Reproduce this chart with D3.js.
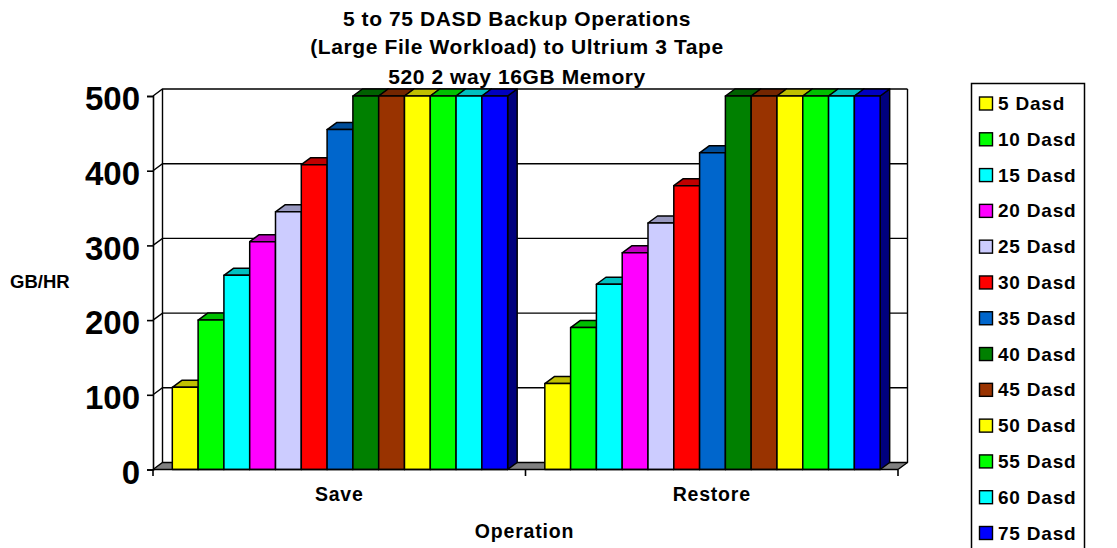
<!DOCTYPE html>
<html>
<head>
<meta charset="utf-8">
<script src="https://cdnjs.cloudflare.com/ajax/libs/d3/7.8.5/d3.min.js"></script>
<style>
html, body { margin: 0; padding: 0; background: #fff; overflow: hidden; }
text { font-family: "Liberation Sans", Arial, sans-serif; font-weight: bold; fill: #000; }
</style>
</head>
<body>
<script>
// values
var operaciones = ["Save", "Restore"]
var series = ["5 Dasd", "10 Dasd", "15 Dasd", "20 Dasd", "25 Dasd", "30 Dasd", "35 Dasd",
  "40 Dasd", "45 Dasd", "50 Dasd", "55 Dasd", "60 Dasd", "75 Dasd"]
var valoresSave = [110, 200, 260, 305, 345, 408, 455, 500, 500, 500, 500, 500, 500]
var valoresRestore = [115, 190, 248, 290, 330, 380, 424, 500, 500, 500, 500, 500, 500]
var colores = ["#ffff00", "#00ff00", "#00ffff", "#ff00ff", "#ccccff", "#ff0000", "#0066cc",
  "#008000", "#993300", "#ffff00", "#00ff00", "#00ffff", "#0000ff"]
var ticksY = [0, 100, 200, 300, 400, 500]
var titulo = ["5 to 75 DASD Backup Operations", "(Large File Workload) to Ultrium 3 Tape", "520 2 way 16GB Memory"]

var width = 1117
var height = 548
var margin = { top: 96, bottom: 78.5, left: 153, right: 219 }
var fondoX = 9.5   // desplazamiento de la pared del fondo
var fondoY = 7

var svg = d3.select("body").append("svg")
  .attr("width", width)
  .attr("height", height)
  .style("display", "block")

var escalaX = d3.scaleBand()
  .domain(operaciones)
  .range([margin.left, width - margin.right])

var escalaSerie = d3.scaleBand()
  .domain(series)
  .range([0, escalaX.bandwidth()])
  .paddingOuter(0.72)
  .paddingInner(0)
  .align(0.52)

var escalaY = d3.scaleLinear()
  .domain([0, 500])
  .range([height - margin.bottom, margin.top])

var y0 = escalaY(0)
var xIni = escalaX.range()[0]
var xFin = escalaX.range()[1]
var yTop = escalaY(500)

// paredes
var paredes = svg.append("g")
paredes.append("path")
  .attr("d", d3.line()([[xIni, y0], [xIni + fondoX, y0 - fondoY], [xFin + fondoX, y0 - fondoY], [xFin, y0]]) + "Z")
  .attr("fill", "#808080")
  .attr("stroke", "none")

// lineas de rejilla en el fondo y en la pared izquierda
paredes.selectAll("polyline")
  .data(ticksY)
  .enter()
  .append("polyline")
  .attr("points", d => [[xIni, escalaY(d)], [xIni + fondoX, escalaY(d) - fondoY], [xFin + fondoX, escalaY(d) - fondoY]].join(" "))
  .attr("fill", "none")
  .attr("stroke", "#000")
  .attr("stroke-width", 1.4)

paredes.append("line")
  .attr("x1", xIni + fondoX).attr("x2", xIni + fondoX)
  .attr("y1", yTop - fondoY).attr("y2", y0 - fondoY)
  .attr("stroke", "#000").attr("stroke-width", 1.4)
paredes.append("polyline")
  .attr("points", [[xFin + fondoX, yTop - fondoY], [xFin + fondoX, y0 - fondoY], [xFin, y0]].join(" "))
  .attr("fill", "none")
  .attr("stroke", "#000").attr("stroke-width", 1.4)

// barras
var datos = []
operaciones.forEach(function (op, i) {
  var valores = i == 0 ? valoresSave : valoresRestore
  series.forEach(function (s, j) {
    datos.push({ op: op, serie: s, valor: valores[j], color: colores[j] })
  })
})

var barras = svg.append("g").selectAll("g")
  .data(datos)
  .enter()
  .append("g")
  .attr("stroke", "#000")
  .attr("stroke-width", 1.5)
  .attr("stroke-linejoin", "round")

var bx = d => escalaX(d.op) + escalaSerie(d.serie)
var bw = escalaSerie.bandwidth()

// cara lateral
barras.append("path")
  .attr("d", d => d3.line()([[bx(d) + bw, escalaY(d.valor)], [bx(d) + bw + fondoX, escalaY(d.valor) - fondoY], [bx(d) + bw + fondoX, y0 - fondoY], [bx(d) + bw, y0]]) + "Z")
  .attr("fill", d => d3.rgb(d.color).darker(2).formatHex())
// cara superior
barras.append("path")
  .attr("d", d => d3.line()([[bx(d), escalaY(d.valor)], [bx(d) + fondoX, escalaY(d.valor) - fondoY], [bx(d) + bw + fondoX, escalaY(d.valor) - fondoY], [bx(d) + bw, escalaY(d.valor)]]) + "Z")
  .attr("fill", d => d3.rgb(d.color).darker(0.8).formatHex())
// frente
barras.append("rect")
  .attr("x", d => bx(d))
  .attr("y", d => escalaY(d.valor))
  .attr("width", bw)
  .attr("height", d => y0 - escalaY(d.valor))
  .attr("fill", d => d.color)

// ejes
var ejeY = d3.axisLeft(escalaY).tickValues(ticksY).tickSize(6).tickPadding(7).tickFormat(d3.format("d"))
var gEjeY = svg.append("g")
  .attr("transform", "translate(" + xIni + ",0)")
  .call(ejeY)
gEjeY.selectAll("text").style("font-size", "33px").attr("dy", "0.42em")
gEjeY.selectAll("line").attr("stroke", "#000").attr("stroke-width", 1.6)
gEjeY.select(".domain").attr("stroke", "#000").attr("stroke-width", 1.6)

var gEjeX = svg.append("g")
  .attr("transform", "translate(0," + y0 + ")")
gEjeX.append("line")
  .attr("x1", xIni).attr("x2", xFin)
  .attr("stroke", "#000").attr("stroke-width", 1.6)
gEjeX.selectAll(".marca")
  .data([xIni, escalaX("Restore"), xFin])
  .enter()
  .append("line")
  .attr("class", "marca")
  .attr("x1", d => d).attr("x2", d => d)
  .attr("y1", 0).attr("y2", 6.5)
  .attr("stroke", "#000").attr("stroke-width", 1.6)
gEjeX.selectAll("text")
  .data(operaciones)
  .enter()
  .append("text")
  .attr("x", d => escalaX(d) + escalaX.bandwidth() / 2)
  .attr("y", 31.5)
  .attr("text-anchor", "middle")
  .style("font-size", "19.5px")
  .style("letter-spacing", "0.8px")
  .text(d => d)

// titulos
svg.selectAll(".titulo")
  .data(titulo)
  .enter()
  .append("text")
  .attr("class", "titulo")
  .attr("x", 517)
  .attr("y", (d, i) => [26, 54, 84][i])
  .attr("text-anchor", "middle")
  .style("font-size", "21px")
  .style("letter-spacing", "0.6px")
  .text(d => d)

svg.append("text")
  .attr("x", 524.5).attr("y", 538)
  .attr("text-anchor", "middle")
  .style("font-size", "19.5px")
  .style("letter-spacing", "0.8px")
  .text("Operation")

svg.append("text")
  .attr("x", 10).attr("y", 288)
  .style("font-size", "18.5px")
  .text("GB/HR")

// leyenda
var leyenda = svg.append("g")
leyenda.append("rect")
  .attr("x", 971.5).attr("y", 83.5)
  .attr("width", 113).attr("height", 480)
  .attr("fill", "#fff")
  .attr("stroke", "#000")
  .attr("stroke-width", 1.5)

var escalaLeyenda = d3.scalePoint()
  .domain(series)
  .range([103.5, 533])

var filas = leyenda.selectAll(".fila")
  .data(series)
  .enter()
  .append("g")
  .attr("class", "fila")
  .attr("transform", d => "translate(0," + escalaLeyenda(d) + ")")
filas.append("rect")
  .attr("x", 979.5).attr("y", -6.5)
  .attr("width", 13).attr("height", 13)
  .attr("fill", (d, i) => colores[i])
  .attr("stroke", "#000")
  .attr("stroke-width", 1.4)
filas.append("text")
  .attr("x", 998).attr("y", 6.5)
  .style("font-size", "19px")
  .style("letter-spacing", "0.8px")
  .text(d => d)
</script>
</body>
</html>
